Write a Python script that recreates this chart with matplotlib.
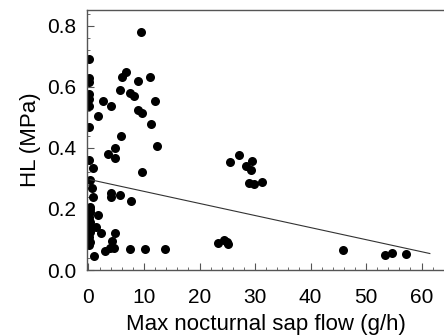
import matplotlib
matplotlib.use('Agg')
from matplotlib import pyplot as plt
from matplotlib.ticker import MultipleLocator, FormatStrFormatter

plt.rcParams['font.family'] = ['Liberation Sans', 'DejaVu Sans']

# 夜间最大液流 (g/h) 与 HL (MPa)
sap_flow = [
    9.4, 0.1, 0.1, 0.1, 6.8, 6.1, 8.9, 11.0, 0.1, 0.1, 0.1, 2.7, 4.0, 5.7,
    7.5, 8.2, 12.0, 8.9, 9.6, 1.8, 0.1, 11.3, 5.9, 12.3, 4.7, 3.5, 4.8, 0.1,
    9.7, 0.9, 0.3, 0.7, 0.75, 4.1, 4.1, 5.7, 7.7,
    0.2, 0.3, 0.1, 0.2, 0.1, 0.3, 0.1, 0.2, 0.1, 0.2, 0.1, 0.3,
    1.7, 1.3, 2.3, 4.8, 4.2, 1.0, 2.9, 3.8, 4.6, 7.5, 10.2, 13.8,
    25.5, 27.2, 29.4, 28.3, 29.2, 28.9, 29.8, 31.3,
    23.3, 24.4, 24.9, 25.2, 45.9, 53.5, 54.6, 57.2,
]
hl = [
    0.78, 0.69, 0.63, 0.615, 0.648, 0.632, 0.62, 0.632, 0.577, 0.56, 0.539, 0.555, 0.539, 0.59,
    0.579, 0.569, 0.555, 0.525, 0.515, 0.505, 0.47, 0.48, 0.44, 0.407, 0.40, 0.38, 0.366, 0.36,
    0.32, 0.333, 0.295, 0.268, 0.24, 0.253, 0.24, 0.246, 0.227,
    0.207, 0.19, 0.174, 0.157, 0.141, 0.125, 0.108, 0.092, 0.082, 0.2, 0.165, 0.13,
    0.18, 0.14, 0.122, 0.122, 0.096, 0.047, 0.062, 0.071, 0.071, 0.068, 0.068, 0.069,
    0.354, 0.377, 0.357, 0.34, 0.327, 0.284, 0.282, 0.288,
    0.087, 0.097, 0.093, 0.084, 0.066, 0.05, 0.056, 0.054,
]

# 回归线
fit_x = [0.3, 61.5]
fit_y = [0.296, 0.054]

fig = plt.figure(figsize=(4.44, 3.35), dpi=100)
ax = fig.add_axes([87 / 444, 65 / 335, 1 - 87 / 444, 260 / 335])

ax.plot(sap_flow, hl, 'o', color='black', markersize=6.5, markeredgewidth=0)
ax.plot(fit_x, fit_y, color='#333333', linewidth=0.8)

ax.set_xlim(-0.27, 64.05)
ax.set_ylim(0, 0.852)
ax.xaxis.set_major_locator(MultipleLocator(10))
ax.xaxis.set_minor_locator(MultipleLocator(2))
ax.yaxis.set_major_locator(MultipleLocator(0.2))
ax.yaxis.set_minor_locator(MultipleLocator(0.04))
ax.yaxis.set_major_formatter(FormatStrFormatter('%.1f'))

ax.spines['right'].set_visible(False)
for s in ['left', 'bottom', 'top']:
    ax.spines[s].set_color('#555555')
    ax.spines[s].set_linewidth(1.0)

ax.tick_params(which='both', direction='in', top=False, right=False,
               color='#555555', labelsize=15)
ax.tick_params(which='major', length=5)
ax.tick_params(which='minor', length=2.5)
ax.tick_params(axis='x', which='major', pad=13)
ax.tick_params(axis='y', which='major', pad=8)

ax.set_xlabel('Max nocturnal sap flow (g/h)', fontsize=16, labelpad=5)
ax.set_ylabel('HL (MPa)', fontsize=16, labelpad=4)

fig.savefig('out.png', dpi=100)
